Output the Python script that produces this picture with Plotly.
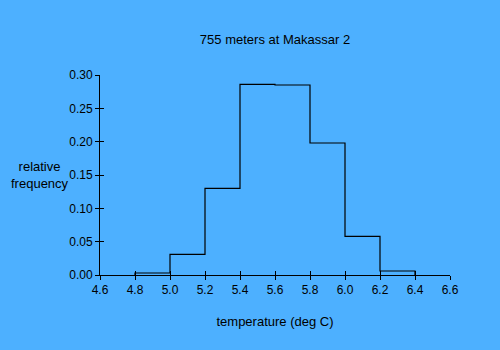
import plotly.graph_objects as go

bin_edges = [4.8, 5.0, 5.2, 5.4, 5.6, 5.8, 6.0, 6.2, 6.4]
rel_freq = [0.003, 0.031, 0.130, 0.286, 0.285, 0.198, 0.058, 0.006]
x_ticks = [4.6, 4.8, 5.0, 5.2, 5.4, 5.6, 5.8, 6.0, 6.2, 6.4, 6.6]
x_tick_text = ["4.6", "4.8", "5.0", "5.2", "5.4", "5.6", "5.8", "6.0", "6.2", "6.4", "6.6"]
y_ticks = [0.0, 0.05, 0.10, 0.15, 0.20, 0.25, 0.30]
y_tick_text = ["0.00", "0.05", "0.10", "0.15", "0.20", "0.25", "0.30"]

title = "755 meters at Makassar 2"
x_title = "temperature (deg C)"
y_title = "relative<br>frequency"

bg = "#4DB0FF"
font = dict(family="Liberation Sans, Arial, sans-serif", size=12, color="black")

# step outline: (edge0,0) -> each bin top -> (last edge, 0)
xs = [bin_edges[0]] + bin_edges
ys = [0] + rel_freq + [0]

fig = go.Figure()
fig.add_trace(go.Scatter(x=xs, y=ys, mode="lines", line=dict(color="black", width=1.2, shape="hv"),
                         hoverinfo="skip", showlegend=False))
# invisible trace so the overlay axes (inner half of the crossing ticks) are drawn
fig.add_trace(go.Scatter(x=[x_ticks[0]], y=[y_ticks[0]], xaxis="x2", yaxis="y2", mode="markers",
                         marker=dict(opacity=0), hoverinfo="skip", showlegend=False))

xr = [x_ticks[0], x_ticks[-1]]
yr = [y_ticks[0], y_ticks[-1]]

fig.update_layout(
    width=500, height=350,
    margin=dict(l=100, r=50, t=75, b=75),
    paper_bgcolor=bg, plot_bgcolor=bg,
    font=font,
    showlegend=False,
    title=dict(text=title, x=0.55, xanchor="center", y=1 - 39 / 350, yanchor="middle",
               font=dict(size=13)),
    xaxis=dict(range=xr, tickvals=x_ticks, ticktext=x_tick_text, ticks="outside", ticklen=4,
               tickcolor="black", showline=True, linecolor="black", linewidth=1,
               tickfont=dict(size=12),
               showgrid=False, zeroline=False,
               title=dict(text=x_title, standoff=20, font=dict(size=13)),
               fixedrange=True),
    yaxis=dict(range=yr, tickvals=y_ticks, ticktext=y_tick_text, ticks="outside", ticklen=4,
               tickcolor="black", showline=True, linecolor="black", linewidth=1,
               tickfont=dict(size=12),
               showgrid=False, zeroline=False, fixedrange=True),
    xaxis2=dict(range=xr, tickvals=x_ticks, ticks="inside", ticklen=4, tickcolor="black",
                showticklabels=False, showline=False, showgrid=False, zeroline=False,
                overlaying="x", anchor="y2", side="bottom", fixedrange=True),
    yaxis2=dict(range=yr, tickvals=y_ticks, ticks="inside", ticklen=4, tickcolor="black",
                showticklabels=False, showline=False, showgrid=False, zeroline=False,
                overlaying="y", anchor="x2", side="left", fixedrange=True),
    annotations=[dict(text=y_title, xref="paper", yref="paper", x=-0.17, y=0.5,
                      xanchor="center", yanchor="middle", showarrow=False,
                      font=dict(size=13))],
)

fig.write_html("out.html", config={"displayModeBar": False})
